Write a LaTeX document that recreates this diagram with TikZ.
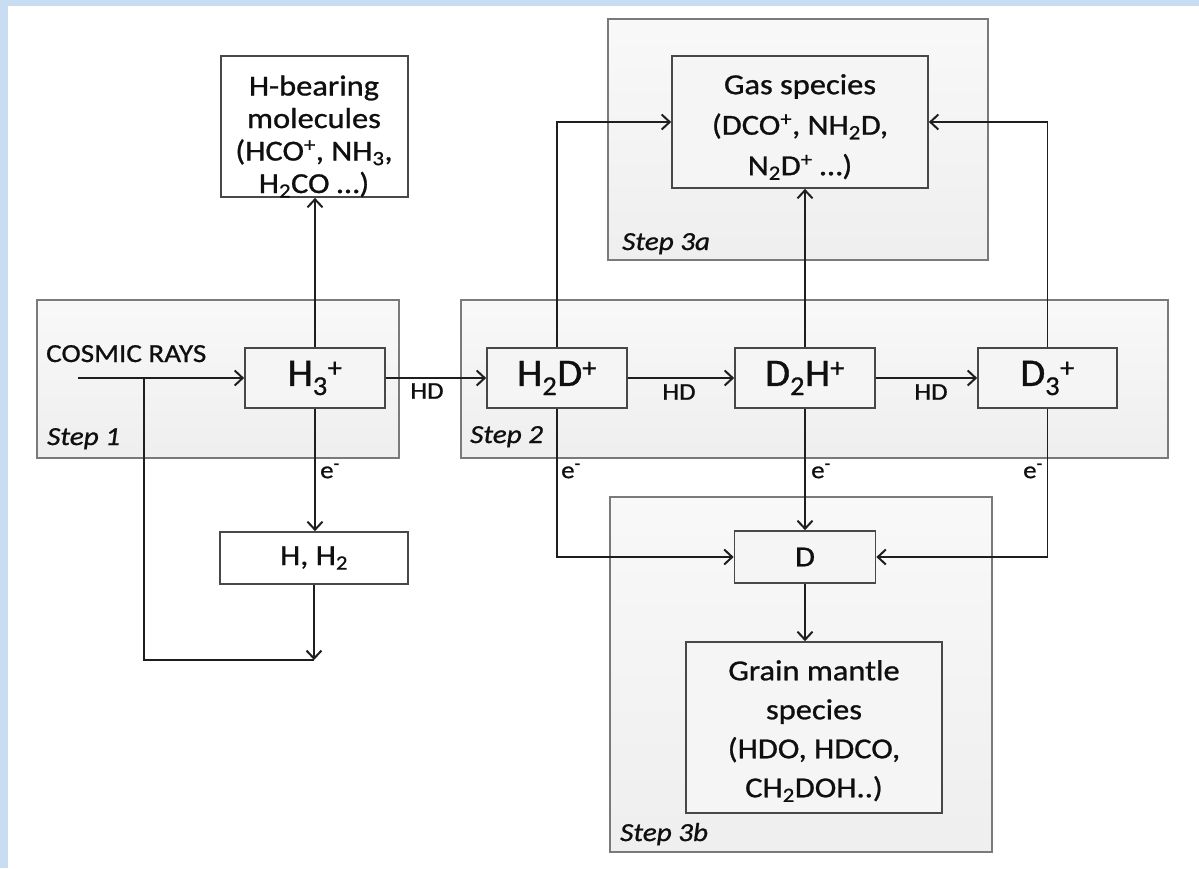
\documentclass[tikz,border=0pt]{standalone}
\usepackage{fontspec}
\setmainfont{Carlito}[FakeStretch=1.12, FakeBold=0.9]
\newfontfamily\formulafont{Carlito}[FakeStretch=1.04, FakeBold=0.9]
\usetikzlibrary{arrows.meta}
\definecolor{bandblue}{RGB}{200,221,241}
\definecolor{stepborder}{RGB}{122,122,122}
\definecolor{boxborder}{RGB}{72,72,72}
\definecolor{linecol}{RGB}{30,30,30}
\definecolor{txt}{RGB}{15,15,15}
\tikzset{
  stepbox/.style={draw=stepborder, line width=2pt, top color=gray!5, bottom color=gray!13, rectangle, inner sep=0pt},
  greybox/.style={draw=boxborder, line width=1.7pt, fill=gray!8, rectangle, inner sep=0pt, text=txt},
  whitebox/.style={draw=boxborder, line width=1.7pt, fill=white, rectangle, inner sep=0pt, text=txt},
  boxtext/.style={align=center, text=txt, inner sep=0pt},
  bigtext/.style={font=\formulafont\fontsize{39}{44}\selectfont},
  midtext/.style={font=\fontsize{29}{34}\selectfont},
  steplabel/.style={font=\fontsize{26}{30}\selectfont\itshape, anchor=base west, inner sep=0pt, text=txt},
  smalllabel/.style={font=\fontsize{24}{26}\selectfont, inner sep=0pt, text=txt},
  conn/.style={draw=linecol, line width=1.5pt},
  arr/.style={conn, -{Straight Barb[length=8pt,width=15pt,line width=2pt]}},
}
\begin{document}
\begin{tikzpicture}[x=1pt,y=-1pt]
\useasboundingbox (0,0) rectangle (1199,868);
\fill[bandblue] (0,0) rectangle (1199,6);
\fill[bandblue] (0,0) rectangle (8,868);

% step areas
\node[stepbox, minimum width=362pt, minimum height=158pt] (step1) at (218,379) {};
\node[stepbox, minimum width=707pt, minimum height=158pt] (step2) at (814.5,379) {};
\node[stepbox, minimum width=380pt, minimum height=241pt] (step3a) at (798,139.5) {};
\node[stepbox, minimum width=382pt, minimum height=355pt] (step3b) at (801,674.5) {};

\node[steplabel] (lab1) at (47,445) {Step 1};
\node[steplabel] (lab2) at (470,443) {Step 2};
\node[steplabel] (lab3a) at (622,250) {Step 3a};
\node[steplabel] (lab3b) at (620,841) {Step 3b};

% boxes
\node[whitebox, minimum width=187pt, minimum height=141pt] (hbear) at (314.5,126.5) {};
\node[boxtext, font=\fontsize{29}{32.5}\selectfont] (hbeartxt) at (314,136.5) {H-bearing\\molecules\\(HCO\textsuperscript{+}, NH\textsubscript{3},\\H\textsubscript{2}CO …)};
\node[greybox, minimum width=256pt, minimum height=132pt] (gas) at (800,122) {};
\node[boxtext, font=\fontsize{29}{40.5}\selectfont] (gastxt) at (800,127) {Gas species\\(DCO\textsuperscript{+}, NH\textsubscript{2}D,\\N\textsubscript{2}D\textsuperscript{+} …)};
\node[greybox, bigtext, minimum width=140pt, minimum height=60pt] (h3) at (315,378) {H\textsubscript{3}\textsuperscript{+}};
\node[greybox, bigtext, minimum width=140pt, minimum height=60pt] (h2d) at (557,378) {H\textsubscript{2}D\textsuperscript{+}};
\node[greybox, bigtext, minimum width=140pt, minimum height=60pt] (d2h) at (805,378) {D\textsubscript{2}H\textsuperscript{+}};
\node[greybox, bigtext, minimum width=139pt, minimum height=60pt] (d3) at (1047.5,378) {D\textsubscript{3}\textsuperscript{+}};
\node[whitebox, midtext, minimum width=188pt, minimum height=52pt] (hh2) at (314,558) {H, H\textsubscript{2}};
\node[greybox, midtext, minimum width=141pt, minimum height=52pt] (dnode) at (805,557) {D};
\node[greybox, minimum width=256pt, minimum height=171pt] (grain) at (814,727.5) {};
\node[boxtext, font=\fontsize{29}{39}\selectfont] (graintxt) at (814,731) {Grain mantle\\species\\(HDO, HDCO,\\CH\textsubscript{2}DOH..)};

% connector coordinates
\coordinate (cr) at (78,378);
\coordinate (br) at (144,378);
\coordinate (jn) at (314,660);

% connectors
\draw[arr] (cr) -- (h3.west);
\draw[conn] (br) |- (jn);
\draw[arr] (hh2.south) -- (jn);
\draw[arr] (h3.north) -- (h3.north |- hbear.south);
\draw[arr] (h3.south) -- (h3.south |- hh2.north);
\draw[arr] (h3.east) -- (h2d.west);
\draw[arr] (h2d.east) -- (d2h.west);
\draw[arr] (d2h.east) -- (d3.west);
\draw[arr] (h2d.north) |- (gas.west);
\draw[arr] (d3.north) |- (gas.east);
\draw[arr] (d2h.north) -- (d2h.north |- gas.south);
\draw[arr] (h2d.south) |- (dnode.west);
\draw[arr] (d2h.south) -- (dnode.north);
\draw[arr] (d3.south) |- (dnode.east);
\draw[arr] (dnode.south) -- (dnode.south |- grain.north);

% labels
\node[font=\fontsize{26}{30}\selectfont, anchor=base west, inner sep=0pt, text=txt] (cosmic) at (46,362) {COSMIC RAYS};
\node[smalllabel] (hd1) at (427,391) {HD};
\node[smalllabel] (hd2) at (679,392) {HD};
\node[smalllabel] (hd3) at (931,392) {HD};
\node[smalllabel] (e1) at (330,471) {e\textsuperscript{-}};
\node[smalllabel] (e2) at (571,471) {e\textsuperscript{-}};
\node[smalllabel] (e3) at (821,471) {e\textsuperscript{-}};
\node[smalllabel] (e4) at (1033,471) {e\textsuperscript{-}};
\end{tikzpicture}
\end{document}
